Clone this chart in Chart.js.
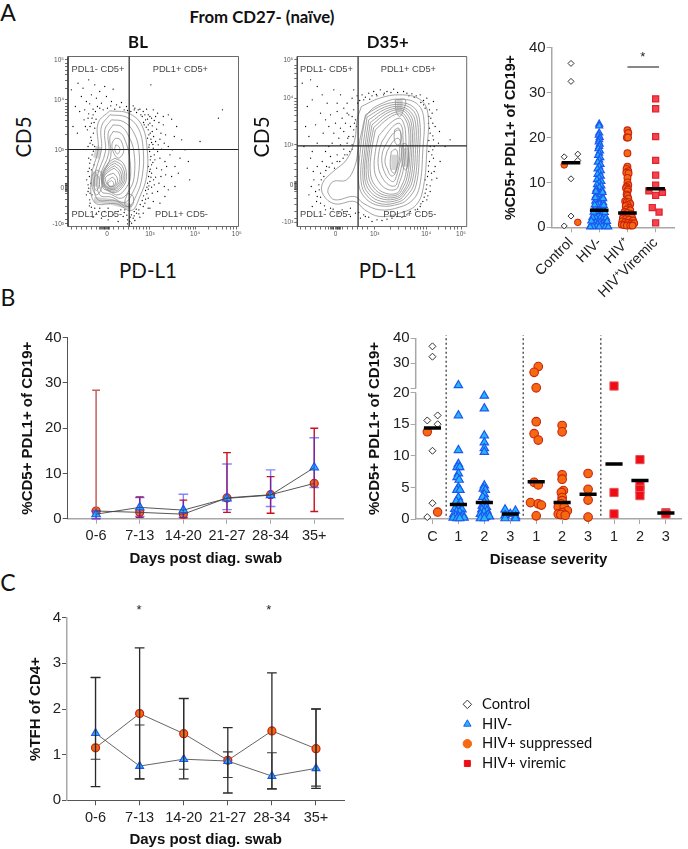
<!DOCTYPE html>
<html>
<head>
<meta charset="utf-8">
<script src="https://cdn.jsdelivr.net/npm/chart.js@4"></script>
<style>
  body { margin: 0; background: #fff; width: 688px; height: 849px; overflow: hidden; position: relative; }
  canvas { position: absolute; }
  .t { position: absolute; white-space: nowrap; transform: translate(-50%, -50%); }
  .q { position: absolute; white-space: nowrap; transform: translateY(-50%); font: 9.3px "Liberation Sans"; color: #444; }
</style>
</head>
<body>
<script>
// flow plots, in channels 0-510 on both axes
const flowMax = 510;
const flowXTicksBL = [117, 245, 380, 505];
const flowYTicksBL = [500, 380, 230, 115, 8];
const flowXTicksD35 = [115, 233, 388, 493];
const flowYTicksD35 = [500, 385, 245, 125, 12];
const flowXLabels = ["0", "10³", "10⁴", "10⁵"];
const flowYLabels = ["10⁵", "10⁴", "10³", "0", "-10³"];
const flowXMinorBL = [10, 25, 40, 55, 70, 85, 95, 97, 100, 102, 105, 108, 110, 112, 115, 120, 122, 125, 135, 150, 165, 180, 195, 205, 215, 225, 235, 286, 309, 326, 339, 350, 359, 367, 374, 421, 444, 461, 474, 485, 494];
const flowYMinorBL = [20, 40, 60, 80, 100, 105, 108, 110, 112, 118, 120, 122, 124, 126, 128, 130, 150, 170, 190, 210, 275, 300, 318, 332, 343, 352, 360, 368, 415, 438, 455, 468, 479, 488];
const flowXMinorD35 = [10, 25, 40, 55, 70, 85, 95, 100, 102, 105, 108, 110, 118, 120, 122, 124, 126, 128, 130, 135, 150, 165, 180, 195, 210, 280, 305, 325, 340, 352, 362, 372, 380, 425, 445, 460, 472, 482];
const flowYMinorD35 = [25, 45, 65, 85, 105, 110, 112, 115, 118, 120, 122, 128, 130, 132, 135, 150, 170, 190, 210, 230, 290, 315, 333, 347, 358, 367, 375, 420, 443, 460, 473, 484];
const gateBL = [183, 231];
const gateD35 = [183, 242];

const ringsBL = [
  [[125,347],[180,340],[220,305],[237,230],[235,150],[215,90],[190,48],[145,68],[80,72],[70,150],[90,230],[90,310]],
  [[125,335],[175,328],[210,295],[225,230],[222,150],[205,95],[180,60],[140,78],[88,82],[80,150],[100,230],[100,300]],
  [[130,320],[165,315],[195,285],[212,230],[210,150],[195,105],[170,72],[130,88],[95,95],[88,150],[112,225],[110,290]],
  [[135,305],[160,300],[182,270],[197,225],[198,150],[185,112],[160,85],[125,98],[100,105],[96,150],[122,220],[120,280]],
  [[135,285],[158,280],[172,255],[183,215],[187,150],[175,118],[150,95],[120,108],[105,115],[102,150],[128,210],[125,265]],
  [[142,265],[155,262],[165,240],[165,220],[150,205],[135,225],[132,250]],
  [[143,245],[152,240],[155,228],[148,218],[140,230]],
  [[140,205],[165,190],[175,150],[165,120],[140,102],[110,115],[100,150],[120,190]],
  [[140,197],[161,183],[170,148],[160,121],[138,106],[110,118],[102,150],[121,184]],
  [[140,190],[158,175],[165,145],[155,122],[135,110],[110,122],[105,150],[122,178]],
  [[139,182],[155,167],[160,142],[150,122],[132,112],[111,123],[106,149],[122,171]],
  [[138,175],[152,160],[155,140],[145,122],[130,115],[112,125],[108,148],[122,165]],
  [[135,160],[145,150],[148,135],[140,122],[125,120],[115,130],[113,148]],
  [[132,148],[140,142],[142,130],[134,120],[122,122],[118,135]],
  [[130,138],[136,132],[134,122],[124,122],[120,130]],
  [[85,170],[100,160],[100,115],[85,95],[72,120],[72,150]],
  [[85,155],[92,148],[92,118],[84,108],[78,122],[78,145]],
  [[178,100],[195,90],[190,60],[170,66]]
];
const smearBL = [[[78,80],[130,74],[190,58]], [[80,120],[80,165]], [[84,205],[92,240]]];

const ringsD35 = [
  [[193,360],[248,385],[308,395],[368,382],[393,340],[390,230],[380,120],[358,65],[308,40],[248,30],[203,50],[173,75],[113,68],[78,95],[76,130],[108,165],[148,200],[173,260],[180,320]],
  [[93,115],[108,135],[148,140],[173,180],[183,230],[193,280],[213,340],[268,375],[308,382],[358,370],[380,330],[378,230],[368,120],[348,80],[308,58],[248,50],[198,70],[173,90],[113,80],[93,100]],
  [[205,335],[260,365],[308,372],[350,358],[368,320],[368,230],[358,125],[335,85],[308,68],[250,62],[205,85],[185,130],[190,230]],
  [[210,328],[262,358],[308,366],[345,352],[362,315],[362,230],[352,130],[330,92],[306,74],[252,68],[210,92],[192,135],[197,230]],
  [[215,320],[265,352],[308,360],[340,345],[356,310],[356,230],[346,135],[325,98],[305,80],[255,75],[215,98],[198,140],[203,230]],
  [[220,312],[268,346],[308,355],[336,340],[350,305],[350,230],[341,140],[322,103],[303,85],[258,82],[220,104],[203,145],[208,230]],
  [[225,305],[270,340],[308,350],[332,335],[345,300],[345,230],[336,145],[320,108],[302,90],[260,88],[225,110],[208,150],[213,230]],
  [[230,297],[272,332],[308,344],[328,328],[340,295],[340,230],[331,150],[316,113],[301,95],[262,94],[230,116],[214,155],[218,230]],
  [[235,290],[275,325],[308,338],[325,322],[335,290],[335,230],[326,155],[312,118],[300,100],[265,100],[235,122],[220,160],[224,230]],
  [[245,272],[280,310],[308,325],[320,310],[326,280],[326,225],[318,165],[306,128],[298,112],[270,112],[245,135],[232,170],[235,225]],
  [[255,255],[283,295],[306,310],[316,295],[318,265],[320,220],[312,172],[302,138],[295,122],[275,125],[255,148],[244,180],[246,225]],
  [[263,240],[285,275],[305,290],[312,278],[312,250],[314,215],[306,180],[298,150],[290,135],[278,140],[264,160],[255,190],[256,220]],
  [[270,225],[288,255],[303,265],[310,255],[308,235],[308,205],[300,175],[292,155],[282,152],[272,170],[264,195]],
  [[293,290],[305,295],[312,275],[310,250],[300,245],[292,262]],
  [[283,225],[297,232],[303,210],[300,180],[292,160],[282,170],[280,200]],
  [[318,250],[330,245],[335,210],[328,170],[318,180],[315,220]],
  [[295,380],[325,380],[318,345],[308,330],[298,345]]
];
const smearD35 = [[[308,382],[308,345]], [[326,235],[328,180]], [[293,215],[292,170]]];

const dotsBL = [
  [30,430],[45,415],[62,440],[80,425],[95,405],[110,420],[135,412],[70,395],[55,375],[40,390],[22,360],[35,345],[50,350],[65,368],[85,385],[100,370],[115,390],[130,375],[145,365],[155,358],[160,372],[175,360],[75,352],[88,360],[62,338],[48,320],[70,310],[58,290],[68,268],[60,240],[72,215],[65,190],[60,165],[56,140],[62,115],[55,95],[65,80],[70,58],[85,40],[110,45],[135,35],[165,30],[178,20],[190,35],[200,18],[215,28],[225,40],[240,55],
  [195,362],[210,350],[225,345],[240,335],[255,350],[268,340],[285,330],[300,335],[310,322],[232,320],[245,310],[258,318],[272,312],[285,305],[240,290],[252,285],[265,292],[278,280],[292,275],[248,262],[262,255],[275,262],[288,250],[300,240],[312,230],[255,235],[268,225],[280,232],[248,210],[260,200],[275,205],[290,195],[305,215],[250,185],[265,175],[280,170],[295,180],[250,160],[262,148],[278,150],[292,155],[245,135],[258,125],[272,130],[288,120],[240,112],[252,100],[268,105],[240,85],[255,75],[230,70],[245,55],
  [200,355],[218,335],[235,352],[250,325],[262,330],[228,305],[242,275],[256,270],[270,245],[243,245],[244,225],[258,215],[246,172],[256,140],[241,150],[250,118],[236,98],[225,60],[212,50],[198,45],[320,180],[335,205],[360,195],[364,140],[395,255],[450,325],[462,350],[340,260],[325,300],[318,270],[350,230],[310,150],[300,110],[290,90],[275,70],[320,120],[330,160],
  [75,335],[82,345],[95,355],[105,350],[118,355],[128,362],[140,352],[168,350],[178,348],[188,345],[60,325],[52,300],[80,295],[66,250],[74,245],[62,205],[78,185],[70,170],[64,150],[68,130],[60,105],[72,95],[66,70],[95,55],[120,55],[150,45],[170,50],[195,25],[205,40],[185,15],[178,8],[190,10],[120,20],[100,25],[150,15],[75,28],[248,425],[15,300],[28,280],[10,410],
  [198,350],[205,342],[215,352],[222,330],[230,335],[238,322],[245,330],[252,302],[226,312],[234,298],[240,305],[246,280],[238,265],[250,252],[242,238],[254,246],[246,200],[254,192],[240,180],[244,165],[248,148],[238,130],[242,122],[232,108],[236,118],[226,92],[232,82],[222,78],[216,66],[204,52],[212,38],[198,32],[186,28],[176,34],[168,42],[158,50],[72,325],[78,312],[84,322],[66,300],[76,280],[70,258],[80,240],[76,226],[68,200],[64,175],[60,125],[66,100],[64,62],[80,55],[92,45]
];
const dotsD35 = [
  [40,440],[60,420],[75,395],[45,380],[30,360],[90,370],[110,410],[130,395],[150,370],[165,385],[120,345],[100,335],[135,325],[150,340],[170,350],[115,310],[95,300],[130,295],[145,310],[160,300],[175,320],[110,280],[125,265],[140,285],[155,270],[170,290],[105,250],[95,240],[130,245],[150,250],[165,245],[85,225],[100,210],[75,195],[60,180],[70,160],[50,140],[65,125],[55,105],[60,90],[70,70],[85,50],[100,55],[125,40],[150,45],[160,30],[175,40],[190,25],[120,215],[105,190],[88,180],[80,150],
  [170,410],[195,395],[215,400],[230,405],[250,410],[270,405],[290,412],[320,405],[345,398],[370,395],[390,385],[410,375],[200,380],[225,392],[380,365],[398,350],[420,350],[402,325],[415,300],[395,310],[400,280],[410,260],[425,250],[445,240],[400,240],[405,215],[398,195],[415,180],[395,165],[405,140],[390,125],[400,105],[385,100],[378,75],[370,60],[390,80],[420,145],[430,195],[355,50],[330,35],[300,30],[270,22],[240,20],[215,28],[200,35],
  [25,300],[35,270],[20,240],[45,225],[60,250],[78,280],[85,320],[70,340],[55,305],[40,205],[30,175],[48,165],[42,120],[35,95],[58,75],[45,60],[15,430],[120,370],[140,355],[155,335],[182,370],[178,300],[168,270],[158,225],[143,215],[128,195],[112,175],[460,260],[385,355],[372,372],[352,388],[336,392],[260,395],[240,392],[428,285],[408,230],[412,165],[385,140],[393,92],[362,52],[340,45],[315,28],[285,25],[255,18],[225,15],
  [180,392],[188,378],[205,388],[218,382],[238,396],[262,400],[282,402],[302,402],[330,400],[358,392],[380,378],[396,368],[406,340],[396,330],[408,310],[398,295],[408,272],[396,258],[412,240],[396,225],[410,205],[395,182],[404,160],[392,150],[400,122],[388,112],[382,88],[372,68],[150,215],[138,205],[120,195],[96,178],[86,168],[72,140],[66,110],[70,88],[82,62],[108,52],[135,50],[160,55],[185,42],[205,30],[165,232],[140,232],[152,265],[172,310],[165,330]
];

// panel A, right
const aCategories = ["Control", "HIV-", "HIV⁺", "HIV⁺Viremic"];
const aMedians = [14.4, 3.8, 3.2, 8.6];
const aControl = [[0,36.5],[0,32.5],[-0.24,15.7],[0.24,16.3],[0.24,14.9],[0,10.8],[0,2.5],[-0.24,0.3]];
const aControlHivPos = [[-0.24,13.9],[0.24,1.1]];
const aHivNeg = [
  [1,23],[1,22.6],[1,21],[0.98,20.5],[1.02,20],[1,19.5],[0.98,19],[1.02,18.5],[1,18],[0.97,17.5],[1.03,17],[1,16.5],[0.96,16],[1.04,15.5],[1,15],[0.95,14.5],[1.05,14],[1,13.5],[0.94,13],[1.06,12.6],[1,12.2],[0.94,11.8],[1.06,11.4],[1,11],[0.92,10.6],[1.08,10.2],[1,9.9],[0.92,9.5],[1.08,9.2],[1,8.9],[0.9,8.5],[1.1,8.2],[0.95,7.9],[1.05,7.6],[1,7.3],[0.88,7],[1.12,6.7],[0.94,6.4],[1.06,6.1],[0.86,5.8],[1.14,5.5],[1,5.2],[0.92,4.9],[1.08,4.6],[0.84,4.3],[1.16,4],[1,3.7],[0.9,3.4],[1.1,3.1],[0.82,2.8],[1.18,2.6],[0.96,2.4],[1.04,2.2],[0.88,2],[1.12,1.8],[0.78,1.6],[1.22,1.5],[0.96,1.3],[1.04,1.2],[0.86,1.1],[1.14,1],[0.74,0.8],[1.26,0.8],[0.94,0.7],[1.06,0.6],[0.82,0.5],[1.18,0.5],[0.7,0.3],[1.3,0.3],[0.9,0.2],[1.1,0.2],[0.78,0.15],[1.22,0.15],[1,0.1],[0.68,0.1],[1.32,0.1],
  [0.76,2.2],[1.24,2.1],[0.72,1.4],[1.28,1.3],[0.8,3.4],[1.2,3.3],[0.84,5],[1.16,4.9],[0.86,6.6],[1.14,6.4],[0.88,8],[1.12,7.8]
];
const aHivPos = [
  [2,21.6],[2.03,21],[1.98,20],[2.02,20],[2,16.5],[2,13.5],[1.97,13],[2.03,12.5],[1.96,12.2],[2.04,12],[2,11],[2,10],[2.03,9.4],[1.97,9],[1.95,8.7],[2.02,8.4],[2,8],[1.97,7.3],[2,7],[2.03,6.4],[1.92,5.8],[1.98,5.6],[2.06,5.6],[2.1,5.2],[2,5],[1.94,4.7],[2.06,4.3],[1.98,4],[2.1,3.8],[1.9,3.4],[2,3.2],[2.12,3],[1.86,2.8],[1.96,2.6],[2.04,2.4],[2.16,2.2],[1.84,2],[1.94,1.8],[2.06,1.7],[2.2,1.5],[1.82,1.3],[1.92,1.1],[2.02,1],[2.14,0.9],[2.24,0.9],[1.8,0.6],[1.88,0.5],[1.98,0.4],[2.1,0.4],[2.18,0.4]
];
const aViremic = [[3,28.6],[3,26.4],[3,20.2],[3,14.9],[3,11.6],[3,9.4],[2.76,8.1],[3.24,7.8],[3,7.1],[2.88,4.4],[3.12,3.4],[3,1.0]];

// panel B, left and C share the swab bins
const swabBins = ["0-6", "7-13", "14-20", "21-27", "28-34", "35+"];
const swabX = [0, 1, 2, 3, 4, 5];
const bSuppressed = [1.7, 1.4, 1.0, 4.6, 5.3, 7.8];
const bSuppressedHi = [28.4, 4.8, 4.1, 14.6, 9.3, 20];
const bSuppressedLo = [0, 0.3, 0.2, 1.4, 1.2, 1.6];
const bHivNeg = [1.0, 2.5, 1.9, 4.5, 5.2, 11.3];
const bHivNegHi = [1.7, 4.7, 5.4, 12.1, 10.8, 17.9];
const bHivNegLo = [0, 0.5, 0.3, 2.0, 2.7, 6.9];

const cSuppressed = [1.15, 1.9, 1.46, 0.875, 1.52, 1.13];
const cSuppressedHi = [2.69, 3.34, 2.23, 1.59, 2.79, 2.0];
const cSuppressedLo = [0.3, 0.47, 0.47, 0.16, 0.25, 0.26];
const cHivNeg = [1.47, 0.75, 0.9, 0.86, 0.53, 0.7];
const cHivNegHi = [2.69, 1.65, 2.23, 1.06, 1.04, 2.0];
const cHivNegLo = [0.9, 0.47, 0.68, 0.5, 0.25, 0.31];

// panel B, right: broken axis, true values kept here
const sevLabels = ["C", "1", "2", "3", "1", "2", "3", "1", "2", "3"];
const sevTicks = [0, 5, 10, 15, 20, 30, 40];
const sevSeparators = [0.53, 3.5, 6.49];
const sevMedians = [14.4, 2.3, 2.6, 0.8, 5.9, 2.6, 3.9, 8.7, 6.1, 0.95];
const sevControl = [[0,36.7],[0,32.6],[-0.2,15.6],[0.2,16.4],[0.2,15],[0,10.8],[0,2.5],[-0.2,0.3]];
const sevControlHivPos = [[-0.2,13.8],[0.2,1.1]];
const sevHivNeg = [
  [1,21.3],[1,16.4],[1,10.9],[1,8.7],[0.95,8.2],[1.05,8.2],[1,7.2],[0.95,6.6],[1.03,6.2],[1,5],[0.94,4.6],[1.06,4.6],[1,3.4],[0.92,2.8],[1.08,2.6],[1,2.1],[0.86,1.6],[1.14,1.5],[0.93,1.2],[1.05,1.1],[0.82,0.7],[1.18,0.6],[0.9,0.5],[1,0.4],[1.1,0.3],[0.8,0.2],[1.22,0.2],[0.95,0.1],[1.05,0.1],
  [2,19.5],[2,17.5],[2,13.2],[2,12.1],[2,11.2],[2,10.6],[2,5.3],[1.96,4.8],[2.04,4.6],[2,3.9],[1.94,3.5],[2.06,3],[2,2.6],[1.92,2.1],[2.08,1.9],[1.9,1.5],[2.1,1.3],[1.98,1.1],[1.85,0.8],[2.15,0.7],[1.92,0.4],[2.05,0.3],[1.85,0.1],[2.2,0.4],[2,0.1],
  [2.8,1.5],[3.2,1.3],[3,0.8],[2.8,0.6],[3.2,0.4],[2.8,0.1],[3.2,0.1]
];
const sevHivPos = [
  [4.08,28.7],[3.92,26.4],[4,20.3],[4,15.4],[3.92,13.5],[4.08,12.5],[3.92,5.8],[4.08,5.4],[3.78,2.6],[4.08,2.4],[4.2,2.2],[4,0.5],
  [5,14.8],[5,13.8],[5,7],[5,6.3],[5.05,4.5],[4.97,4.2],[5,3.4],[5,2.9],[4.95,2.4],[4.85,1.9],[5.08,1.9],[5.2,1.3],[5,1],[4.85,0.8],[4.95,0.7],[5.12,0.6],
  [6,7.2],[6,4.7],[6,3],[6,0.3]
];
const sevViremic = [[7,21],[7,4.2],[7,0.8],[8,9.4],[8,5.3],[8,4.7],[8,3.7],[9,1.0],[9,0.8]];

const legendItems = ["Control", "HIV-", "HIV+ suppressed", "HIV+ viremic"];

// colours
const BLUE_FILL = "#22b8f7", BLUE_EDGE = "#1f56f2";
const ORANGE_FILL = "#f56a10", ORANGE_EDGE = "#c9220f";
const AXIS_GREY = "#a8a8a8", AXIS_DARK = "#555";
const TICK_TEXT = "#222";

Chart.defaults.animation = false;
Chart.defaults.responsive = false;
Chart.defaults.plugins.legend.display = false;
Chart.defaults.plugins.tooltip.enabled = false;
Chart.defaults.font.family = '"Liberation Sans"';

function makeCanvas(left, top, width, height) {
  const c = document.createElement("canvas");
  c.width = width; c.height = height;
  c.style.left = left + "px"; c.style.top = top + "px";
  document.body.appendChild(c);
  return c.getContext("2d");
}

function addText(text, x, y, css) {
  const d = document.createElement("div");
  d.className = "t";
  d.textContent = text;
  d.style.cssText = `left:${x}px;top:${y}px;${css}`;
  document.body.appendChild(d);
  return d;
}

function addQuad(text, x, y) {
  const d = document.createElement("div");
  d.className = "q";
  d.textContent = text;
  d.style.left = x + "px"; d.style.top = y + "px";
  document.body.appendChild(d);
}

const pts = arr => arr.map(p => ({ x: p[0], y: p[1] }));
const closed = ring => pts(ring.concat([ring[0]]));

function lineSet(data, color, width, extra) {
  return Object.assign({ data, borderColor: color, borderWidth: width, showLine: true, pointRadius: 0, clip: false, tension: 0 }, extra);
}

// vertical error bars with caps, NaN breaks the line
function errorBars(xs, lo, hi, cap) {
  const out = [];
  xs.forEach((x, i) => {
    out.push({ x, y: lo[i] }, { x, y: hi[i] }, { x, y: NaN });
    out.push({ x: x - cap, y: lo[i] }, { x: x + cap, y: lo[i] }, { x, y: NaN });
    out.push({ x: x - cap, y: hi[i] }, { x: x + cap, y: hi[i] }, { x, y: NaN });
  });
  return out;
}

function medianBars(values, half) {
  const out = [];
  values.forEach((v, i) => {
    out.push({ x: i - half, y: v }, { x: i + half, y: v }, { x: i, y: NaN });
  });
  return out;
}

function markers(data, style, radius, fill, edge, width) {
  return { data, pointStyle: style, pointRadius: radius, pointBackgroundColor: fill, pointBorderColor: edge, pointBorderWidth: width, showLine: false, clip: false };
}

function flowChart(box, area, rings, smears, dots, gate, xTicks, yTicks, xMinor, yMinor, frameLeft) {
  const datasets = [
    lineSet(pts([[gate[0], 0], [gate[0], flowMax]]), "#222", 1.2),
    lineSet(pts([[0, gate[1]], [flowMax, gate[1]]]), "#222", 1.2),
    lineSet(pts([[0, 0], [flowMax, 0], [flowMax, flowMax], [0, flowMax], [0, 0]]), "#444", 0.8),
    lineSet(pts([[0, 0], [0, flowMax]]), frameLeft, 1.2)
  ];
  rings.forEach(r => datasets.push(lineSet(closed(r), "#8c8c8c", 0.8, { tension: 0.4 })));
  smears.forEach(s => datasets.push(lineSet(pts(s), "#d4d4d4", 6)));
  datasets.push({ data: pts(dots), pointRadius: 0.65, pointBackgroundColor: "#000", pointBorderWidth: 0, showLine: false });

  const axis = (major, minor, labels, isX) => ({
    type: "linear", min: 0, max: flowMax,
    afterBuildTicks: s => { s.ticks = major.concat(minor).sort((a, b) => a - b).map(v => ({ value: v })); },
    afterFit: s => { if (isX) s.height = area.bottom; else s.width = area.left; },
    border: { display: false },
    grid: { drawOnChartArea: false, tickLength: 3, color: "#333", lineWidth: 0.7 },
    ticks: {
      autoSkip: false, maxRotation: 0, padding: 1, color: "#555", font: { size: 6.5 },
      callback: v => { const k = major.indexOf(v); return k >= 0 ? labels[k] : ""; }
    }
  });

  new Chart(makeCanvas(box[0], box[1], box[2], box[3]), {
    type: "scatter",
    data: { datasets },
    options: {
      layout: { padding: { top: area.top, right: area.right, left: 0, bottom: 0 } },
      scales: { x: axis(xTicks, xMinor, flowXLabels, true), y: axis(yTicks, yMinor, flowYLabels, false) }
    }
  });
}

flowChart([40, 50, 205, 195], { left: 28, right: 6.5, top: 6.5, bottom: 18.5 }, ringsBL, smearBL, dotsBL, gateBL, flowXTicksBL, flowYTicksBL, flowXMinorBL, flowYMinorBL, "#444");
flowChart([270, 50, 205, 195], { left: 27.3, right: 8.3, top: 6.5, bottom: 18.5 }, ringsD35, smearD35, dotsD35, gateD35, flowXTicksD35, flowYTicksD35, flowXMinorD35, flowYMinorD35, "#bbb");

// common axes for the GraphPad-like panels
function xAxis(o) {
  return {
    type: "linear", min: o.min, max: o.max,
    afterBuildTicks: s => { s.ticks = o.values.map(v => ({ value: v })); },
    afterFit: s => { s.height = o.height; },
    border: { display: true, color: o.color, width: o.width },
    grid: { drawOnChartArea: false, tickLength: 5, color: o.tickColor || AXIS_GREY, lineWidth: 1 },
    ticks: {
      autoSkip: false, padding: o.pad || 4, color: TICK_TEXT, font: { size: 14.5 },
      maxRotation: o.rot || 0, minRotation: o.rot || 0,
      callback: (v, i) => o.labels[i]
    },
    title: o.title ? { display: true, text: o.title, color: "#111", font: { size: 15, weight: "bold" }, padding: { top: o.titlePad, bottom: 0 } } : { display: false }
  };
}

function yAxis(o) {
  return {
    type: "linear", min: o.min, max: o.max,
    afterBuildTicks: s => { s.ticks = o.values.map(v => ({ value: v })); },
    afterFit: s => { s.width = o.width; },
    border: { display: o.axisWidth > 0, color: o.color, width: o.axisWidth },
    grid: { drawOnChartArea: false, tickLength: 5, color: o.tickColor || AXIS_GREY, lineWidth: 1 },
    ticks: { autoSkip: false, padding: 1, color: TICK_TEXT, font: { size: 15 }, callback: (v, i) => o.labels[i] },
    title: { display: true, text: o.title, color: "#111", font: { size: o.titleSize || 14.3, weight: "bold" }, padding: { top: o.titlePad, bottom: 0 } }
  };
}

// panel A right
new Chart(makeCanvas(500, 37, 188, 268), {
  type: "scatter",
  data: {
    datasets: [
      lineSet(medianBars(aMedians, 0.33), "#000", 3.5),
      lineSet(pts([[2, 35.7], [3.12, 35.7]]), "#111", 1),
      markers(pts(aControlHivPos), "circle", 3.3, ORANGE_FILL, ORANGE_EDGE, 1),
      markers(pts(aControl), "rectRot", 3, "#fff", "#333", 1),
      markers(pts(aViremic), "rect", 4.3, "#f2444e", "#e3202c", 1.2),
      markers(pts(aHivPos), "circle", 3.4, ORANGE_FILL, ORANGE_EDGE, 1.1),
      markers(pts(aHivNeg), "triangle", 4, BLUE_FILL, BLUE_EDGE, 1.2)
    ]
  },
  options: {
    layout: { padding: { top: 10.7, right: 14, left: 0, bottom: 0 } },
    scales: {
      x: xAxis({ min: -0.684, max: 3.65, values: [0, 1, 2, 3], labels: aCategories, height: 77.7, color: AXIS_GREY, width: 1.5, rot: 45, pad: 2 }),
      y: yAxis({ min: 0, max: 40, values: [0, 10, 20, 30, 40], labels: ["0", "10", "20", "30", "40"], width: 51.7, color: AXIS_GREY, axisWidth: 1.5, title: "%CD5+ PDL1+ of CD19+", titlePad: 2 })
    }
  }
});

// panel B left
new Chart(makeCanvas(15, 327, 335, 241), {
  type: "scatter",
  data: {
    datasets: [
      lineSet(swabX.map((x, i) => ({ x, y: bHivNeg[i] })), "#444", 0.9),
      lineSet(swabX.map((x, i) => ({ x, y: bSuppressed[i] })), "#444", 0.9),
      lineSet(errorBars(swabX, bHivNegLo, bHivNegHi, 0.11), "rgba(50,50,255,0.6)", 1.4),
      markers(swabX.map((x, i) => ({ x, y: bHivNeg[i] })), "triangle", 5, BLUE_FILL, BLUE_EDGE, 1.1),
      lineSet(errorBars(swabX.slice(0, 1), bSuppressedLo, bSuppressedHi, 0.09), "#c56060", 1.5),
      lineSet(errorBars(swabX.slice(1), bSuppressedLo.slice(1), bSuppressedHi.slice(1), 0.09), "#c8101e", 1.4),
      markers(swabX.map((x, i) => ({ x, y: bSuppressed[i] })), "circle", 4, ORANGE_FILL, ORANGE_EDGE, 1.2)
    ]
  },
  options: {
    layout: { padding: { top: 10.7, right: 0, left: 0, bottom: 0 } },
    scales: {
      x: xAxis({ min: -0.651, max: 5.68, values: swabX, labels: swabBins, height: 49.3, color: AXIS_GREY, width: 1.5, title: "Days post diag. swab", titlePad: 2 }),
      y: yAxis({ min: 0, max: 40, values: [0, 10, 20, 30, 40], labels: ["0", "10", "20", "30", "40"], width: 52.7, color: AXIS_DARK, axisWidth: 1, tickColor: AXIS_DARK, title: "%CD5+ PDL1+ of CD19+", titlePad: 4, titleSize: 15 })
    }
  }
});

// panel B right
const brk = v => v <= 20 ? v : 20.65 + (v - 20) * 0.4;
const brkPts = arr => arr.map(p => ({ x: p[0], y: brk(p[1]) }));
const sevTop = brk(40);
const sevTickValues = sevTicks.map(brk).concat([brk(20.001)]);
const sevMedianPts = medianBars(sevMedians, 0.33);
const sevXMin = -0.646;
new Chart(makeCanvas(362, 327, 326, 242), {
  type: "scatter",
  data: {
    datasets: [
      lineSet(sevMedianPts, "#000", 3.5),
      ...sevSeparators.map(x => lineSet(pts([[x, 0.5], [x, 29.1]]), "#555", 1.5, { borderDash: [2, 2.5] })),
      lineSet(pts([[sevXMin, 0], [sevXMin, 20]]), AXIS_GREY, 1.5),
      lineSet(pts([[sevXMin, brk(20.001)], [sevXMin, sevTop]]), AXIS_GREY, 1.5),
      markers(brkPts(sevControlHivPos), "circle", 4.2, ORANGE_FILL, ORANGE_EDGE, 1.1),
      markers(brkPts(sevControl), "rectRot", 3.5, "#fff", "#333", 1),
      markers(brkPts(sevViremic), "rect", 5.8, "#ee0d14", "#e85058", 1),
      markers(brkPts(sevHivPos), "circle", 4.3, ORANGE_FILL, ORANGE_EDGE, 1.1),
      markers(brkPts(sevHivNeg), "triangle", 4.8, BLUE_FILL, BLUE_EDGE, 1.2)
    ]
  },
  options: {
    layout: { padding: { top: 11, right: 3, left: 0, bottom: 0 } },
    scales: {
      x: xAxis({ min: sevXMin, max: 9.59, values: sevLabels.map((l, i) => i), labels: sevLabels, height: 50, color: AXIS_GREY, width: 1.5, title: "Disease severity", titlePad: 2 }),
      y: yAxis({ min: 0, max: sevTop, values: sevTickValues, labels: sevTicks.map(String).concat([""]), width: 53.7, color: AXIS_GREY, axisWidth: 0, title: "%CD5+ PDL1+ of CD19+", titlePad: 4, titleSize: 15 })
    }
  }
});

// panel C
new Chart(makeCanvas(15, 607, 335, 242), {
  type: "scatter",
  data: {
    datasets: [
      lineSet(errorBars(swabX, cSuppressedLo, cSuppressedHi, 0.11), "#2a2a2a", 1.3),
      lineSet(errorBars(swabX, cHivNegLo, cHivNegHi, 0.11), "#3a3a3a", 1.1),
      markers(swabX.map((x, i) => ({ x, y: cHivNeg[i] })), "triangle", 4.6, BLUE_FILL, BLUE_EDGE, 1.1),
      markers(swabX.map((x, i) => ({ x, y: cSuppressed[i] })), "circle", 4, ORANGE_FILL, ORANGE_EDGE, 1.2),
      lineSet(swabX.map((x, i) => ({ x, y: cHivNeg[i] })), "#555", 0.9),
      lineSet(swabX.map((x, i) => ({ x, y: cSuppressed[i] })), "#555", 0.9)
    ]
  },
  options: {
    layout: { padding: { top: 10.7, right: 0, left: 0, bottom: 0 } },
    scales: {
      x: xAxis({ min: -0.647, max: 5.642, values: swabX, labels: swabBins, height: 48.7, color: AXIS_DARK, width: 1, tickColor: AXIS_DARK, title: "Days post diag. swab", titlePad: 2 }),
      y: yAxis({ min: 0, max: 4, values: [0, 1, 2, 3, 4], labels: ["0", "1", "2", "3", "4"], width: 52, color: AXIS_GREY, axisWidth: 1.5, tickColor: AXIS_DARK, title: "%TFH of CD4+", titlePad: 12, titleSize: 15 })
    }
  }
});

// legend
new Chart(makeCanvas(455, 692, 220, 85), {
  type: "scatter",
  data: {
    datasets: [
      { label: legendItems[0], data: [], pointStyle: "rectRot", backgroundColor: "#fff", borderColor: "#333", borderWidth: 1 },
      { label: legendItems[1], data: [], pointStyle: "triangle", backgroundColor: BLUE_FILL, borderColor: BLUE_EDGE, borderWidth: 1 },
      { label: legendItems[2], data: [], pointStyle: "circle", backgroundColor: ORANGE_FILL, borderColor: ORANGE_FILL, borderWidth: 1 },
      { label: legendItems[3], data: [], pointStyle: "rect", backgroundColor: "#ee0d14", borderColor: "#ee0d14", borderWidth: 1 }
    ]
  },
  options: {
    scales: { x: { display: false }, y: { display: false } },
    plugins: {
      legend: {
        display: true, position: "left", align: "start", maxWidth: 215,
        labels: { usePointStyle: true, boxWidth: 15, boxHeight: 6, padding: 5, color: "#111", font: { family: "Lato", size: 14.7 } }
      }
    }
  }
});

// text around the plots
const HEAD = 'font:400 23px Lato;color:#111;';
addText("A", 8, 12, HEAD);
addText("B", 8, 297, HEAD);
addText("C", 8, 582, HEAD);
addText("From CD27- (naïve)", 262, 16, 'font:700 16.8px Lato;color:#111;');
addText("BL", 138, 41, 'font:700 16.8px Lato;color:#111;');
addText("D35+", 387.7, 41, 'font:700 16.8px Lato;color:#111;');
addText("CD5", 23, 137, 'font:400 20.5px Lato;color:#111;transform:translate(-50%,-50%) rotate(-90deg);');
addText("CD5", 260.7, 137, 'font:400 20.5px Lato;color:#111;transform:translate(-50%,-50%) rotate(-90deg);');
addText("PD-L1", 148, 270, 'font:400 20.5px Lato;color:#111;');
addText("PD-L1", 387.7, 270, 'font:400 20.5px Lato;color:#111;');
addQuad("PDL1- CD5+", 71.5, 68.5); addQuad("PDL1+ CD5+", 152.7, 68.5);
addQuad("PDL1- CD5-", 71.5, 213.7); addQuad("PDL1+ CD5-", 155, 213.7);
addQuad("PDL1- CD5+", 300, 68.5); addQuad("PDL1+ CD5+", 380.7, 68.5);
addQuad("PDL1- CD5-", 300, 214); addQuad("PDL1+ CD5-", 383.3, 214);
const STAR = 'font:400 13px "Liberation Sans";color:#222;';
addText("*", 642.7, 56, STAR);
addText("*", 139, 609, STAR);
addText("*", 268.7, 609, STAR);
</script>
</body>
</html>
